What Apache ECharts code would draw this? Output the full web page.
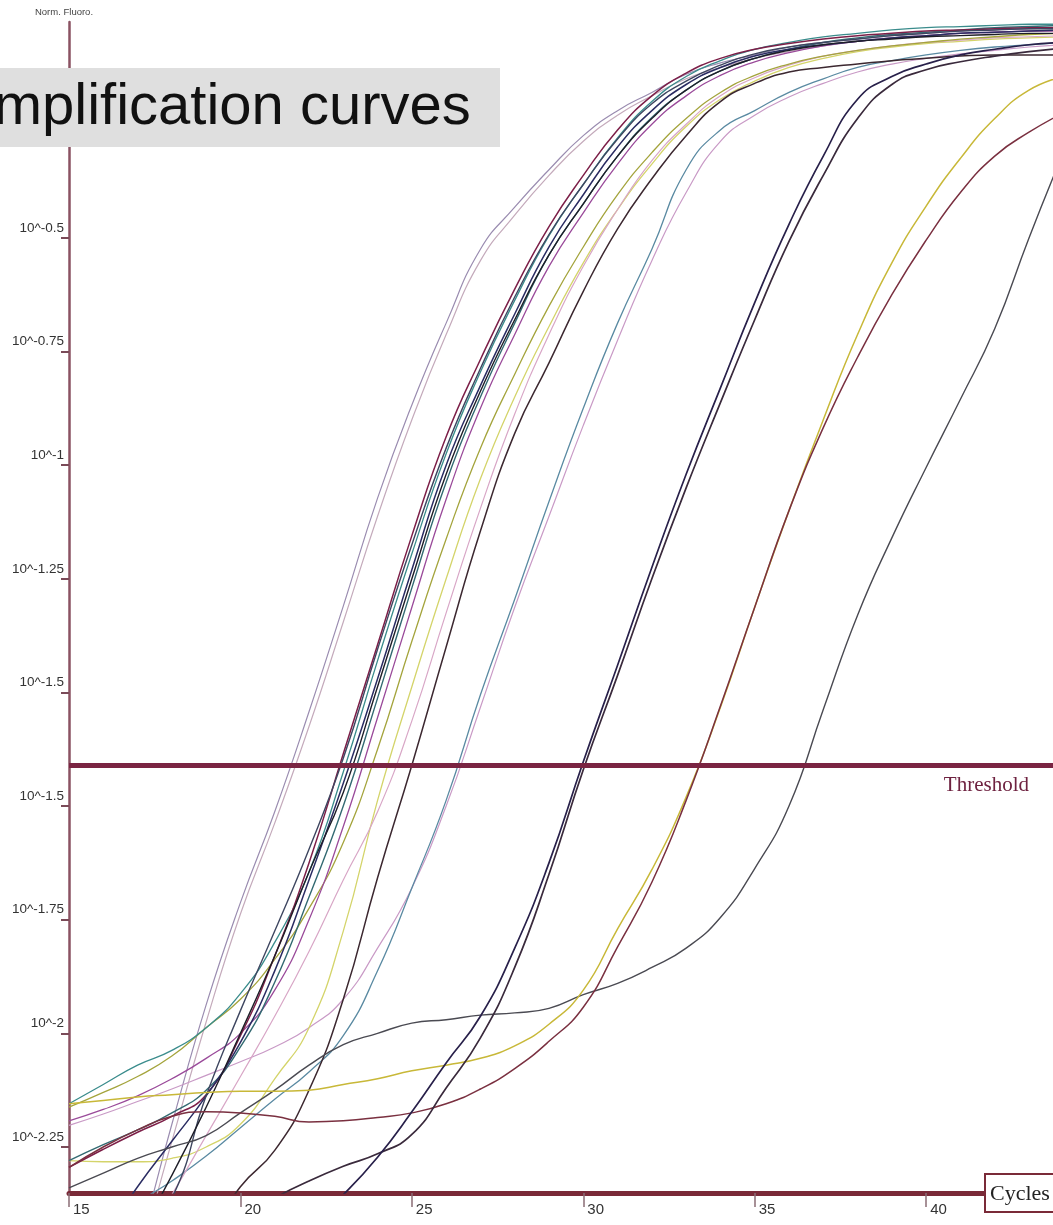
<!DOCTYPE html>
<html><head><meta charset="utf-8">
<script src="https://cdn.jsdelivr.net/npm/echarts@6/dist/echarts.min.js"></script>
<style>html,body{margin:0;padding:0;background:#fff}#c{width:1053px;height:1225px}</style>
</head><body><div id="c"></div>
<script>
// cycles sampled (x axis)
const cycles = [15,16,17,18,19,20,21,22,23,24,25,26,27,28,29,30,31,32,33,34,35,36,37,38,39,40,41,42,43,44];
// x ticks
const xTicks = [15,20,25,30,35,40];
// y ticks (tick index positions) and their printed labels
const yTickValues = [0,1,2,3,4,5,6,7,8];
const yTickLabels = ['10^-2.25','10^-2','10^-1.75','10^-1.5','10^-1.5','10^-1.25','10^-1','10^-0.75','10^-0.5'];
const thresholdValue = 3.36;

// normalised fluorescence per curve (in y tick units), one value per cycle
const L1  = [-2.6,-1.8,-0.9,0.2,1.25,2.15,2.95,3.83,4.76,5.71,6.53,7.25,7.9,8.27,8.6,8.9,9.12,9.28,9.44,9.54,9.61,9.68,9.72,9.75,9.78,9.8,9.82,9.83,9.84,9.85];
const L2  = [-2.6,-1.9,-1.0,0.05,1.1,2.05,2.85,3.7,4.62,5.55,6.4,7.15,7.8,8.2,8.55,8.85,9.08,9.25,9.4,9.5,9.58,9.64,9.69,9.73,9.76,9.78,9.8,9.81,9.82,9.83];
const M1  = [-0.18,-0.02,0.13,0.27,0.46,0.98,1.68,2.5,3.46,4.42,5.38,6.25,6.93,7.55,8.1,8.55,8.95,9.25,9.45,9.58,9.66,9.71,9.75,9.78,9.8,9.82,9.83,9.84,9.85,9.85];
const M2  = [0.38,0.55,0.72,0.85,1.05,1.35,1.8,2.42,3.3,4.28,5.22,6.1,6.82,7.45,8.02,8.47,8.88,9.2,9.42,9.56,9.66,9.72,9.77,9.8,9.83,9.85,9.86,9.87,9.88,9.88];
const M3  = [0.35,0.48,0.62,0.8,1.05,1.3,1.65,2.1,2.68,3.5,4.45,5.35,6.15,6.8,7.4,7.92,8.38,8.75,9.05,9.28,9.43,9.53,9.6,9.65,9.69,9.72,9.75,9.77,9.79,9.8];
const M4  = [-1.3,-0.8,-0.35,0.05,0.45,0.92,1.55,2.35,3.2,4.12,5.08,6.0,6.7,7.33,7.92,8.38,8.8,9.12,9.35,9.5,9.6,9.66,9.7,9.73,9.76,9.78,9.8,9.81,9.82,9.83];
const M5  = [-1.8,-1.3,-0.8,-0.25,0.35,1.0,1.68,2.42,3.12,4.05,5.0,5.92,6.65,7.28,7.85,8.3,8.72,9.05,9.3,9.47,9.58,9.65,9.7,9.73,9.75,9.77,9.78,9.79,9.8,9.8];
const M6  = [-0.12,0.02,0.15,0.3,0.5,0.88,1.45,2.2,3.0,3.95,4.92,5.85,6.6,7.25,7.85,8.3,8.72,9.06,9.3,9.47,9.58,9.66,9.72,9.76,9.79,9.81,9.83,9.85,9.86,9.87];
const M7  = [0.23,0.33,0.45,0.6,0.78,1.0,1.38,2.0,2.82,3.78,4.75,5.7,6.5,7.15,7.75,8.22,8.65,9.0,9.25,9.43,9.55,9.63,9.69,9.73,9.76,9.78,9.8,9.81,9.82,9.82];
const M8  = [-1.5,-1.2,-0.8,-0.45,0.45,1.2,1.9,2.62,3.42,4.38,5.3,6.15,6.85,7.48,8.03,8.47,8.87,9.18,9.38,9.52,9.62,9.68,9.72,9.75,9.78,9.8,9.82,9.83,9.84,9.84];
const Y24 = [-0.12,-0.13,-0.13,-0.1,0.0,0.2,0.6,1.05,1.9,3.05,4.05,5.0,5.88,6.6,7.22,7.78,8.25,8.65,8.98,9.22,9.38,9.5,9.58,9.64,9.68,9.71,9.73,9.75,9.76,9.77];
const P24 = [-1.6,-1.3,-0.9,-0.42,0.1,0.62,1.15,1.72,2.35,2.95,3.75,4.7,5.62,6.45,7.15,7.75,8.25,8.68,9.0,9.25,9.41,9.52,9.6,9.65,9.69,9.72,9.74,9.76,9.77,9.78];
const B1  = [-2.5,-2.0,-1.5,-1.1,-0.8,-0.35,-0.03,0.5,1.3,2.37,3.36,4.4,5.42,6.28,6.9,7.53,8.08,8.52,8.9,9.2,9.36,9.46,9.5,9.53,9.56,9.58,9.6,9.61,9.61,9.61];
const T26 = [-1.1,-0.8,-0.5,-0.3,-0.08,0.17,0.42,0.66,0.98,1.55,2.28,3.05,3.98,4.82,5.68,6.5,7.25,7.9,8.6,8.95,9.12,9.28,9.4,9.5,9.56,9.61,9.65,9.68,9.7,9.72];
const P26 = [0.19,0.29,0.40,0.51,0.63,0.75,0.88,1.05,1.3,1.75,2.28,3.0,3.87,4.75,5.55,6.35,7.1,7.8,8.4,8.85,9.08,9.24,9.36,9.46,9.53,9.58,9.62,9.65,9.68,9.7];
const D1  = [-2.5,-2.2,-1.9,-1.6,-1.35,-1.1,-0.9,-0.7,-0.42,-0.09,0.31,0.74,1.15,1.75,2.5,3.39,4.24,5.1,5.92,6.68,7.43,8.12,8.72,9.22,9.42,9.53,9.61,9.66,9.7,9.72];
const D2  = [-2.0,-1.7,-1.4,-1.1,-0.85,-0.65,-0.45,-0.3,-0.17,-0.06,0.11,0.52,0.96,1.58,2.4,3.32,4.15,5.0,5.8,6.55,7.28,7.97,8.55,9.05,9.35,9.48,9.55,9.6,9.64,9.67];
const Y33 = [0.38,0.41,0.44,0.46,0.48,0.49,0.49,0.5,0.55,0.6,0.67,0.72,0.78,0.89,1.08,1.38,1.92,2.44,3.08,3.87,4.75,5.6,6.4,7.15,7.78,8.28,8.7,9.05,9.3,9.42];
const Br33= [-0.18,0.0,0.15,0.27,0.31,0.3,0.27,0.22,0.23,0.26,0.3,0.38,0.51,0.69,0.93,1.23,1.76,2.33,3.05,3.88,4.75,5.6,6.33,6.95,7.5,7.98,8.4,8.72,8.93,9.1];
const G36 = [-0.36,-0.23,-0.1,0.0,0.1,0.3,0.5,0.72,0.9,1.0,1.09,1.12,1.16,1.18,1.22,1.34,1.44,1.58,1.75,2.02,2.45,3.0,3.85,4.68,5.36,5.98,6.58,7.2,8.0,8.75];

const curves = [
  ['L1', L1, '#9a8cb0', 1.2], ['L2', L2, '#c4aabb', 1.2],
  ['P26', P26, '#c99ac6', 1.2], ['T26', T26, '#5a8aa2', 1.3],
  ['Y24', Y24, '#d4d46a', 1.3], ['P24', P24, '#d8a6c6', 1.2],
  ['M3', M3, '#a4a43c', 1.3], ['M2', M2, '#3a8c8c', 1.3],
  ['M7', M7, '#9a4a9a', 1.3], ['M6', M6, '#336a72', 1.4],
  ['M1', M1, '#7c1f48', 1.5], ['M4', M4, '#2a2c62', 1.5],
  ['M8', M8, '#3e4660', 1.4], ['M5', M5, '#1e1e28', 1.4],
  ['B1', B1, '#3c2830', 1.5], ['G36', G36, '#4a4a52', 1.4],
  ['Y33', Y33, '#c8b838', 1.5], ['Br33', Br33, '#7a3040', 1.5],
  ['D2', D2, '#3a2a3c', 1.7], ['D1', D1, '#28204a', 1.7]
];

const series = curves.map(([name, vals, color, w]) => ({
  name, type: 'line', data: cycles.map((c, i) => [c, vals[i]]),
  showSymbol: false, symbol: 'none', smooth: 0.5,
  lineStyle: { color, width: w }, itemStyle: { color },
  emphasis: { disabled: true }, silent: true, clip: true, z: 2
}));

series.push({
  name: 'Threshold', type: 'line', data: [], z: 5, silent: true,
  markLine: {
    silent: true, symbol: ['none', 'none'], animation: false,
    lineStyle: { color: '#7a2442', width: 5, type: 'solid' },
    label: { show: true, position: 'insideEndBottom', formatter: 'Threshold',
      fontFamily: '"Liberation Serif", "DejaVu Serif", serif', fontSize: 21,
      color: '#6e2240', distance: 10, padding: [0, 14, 0, 0] },
    data: [{ yAxis: thresholdValue }]
  }
});

const labelFont = '"Liberation Sans", Arial, sans-serif';

const chart = echarts.init(document.getElementById('c'), null, { renderer: 'canvas' });
chart.setOption({
  animation: false,
  backgroundColor: '#ffffff',
  grid: { left: 69, right: 0, top: 22, bottom: 32, containLabel: false },
  xAxis: {
    type: 'value', min: 15, max: 43.7,
    axisLine: { show: true, onZero: false, lineStyle: { color: '#7a2a38', width: 5 } },
    axisTick: { show: true, length: 14, customValues: xTicks, lineStyle: { color: '#8a6e76', width: 1.5 } },
    axisLabel: { show: true, customValues: xTicks, align: 'left', padding: [0, 0, 0, 4], margin: 9,
      fontFamily: labelFont, fontSize: 15, color: '#333' },
    splitLine: { show: false }
  },
  yAxis: {
    type: 'value', min: -0.405, max: 9.9,
    name: 'Norm. Fluoro.', nameLocation: 'end', nameGap: 5,
    nameTextStyle: { fontFamily: labelFont, fontSize: 9.5, color: '#444', align: 'center', padding: [0, 10, 0, 0] },
    axisLine: { show: true, onZero: false, lineStyle: { color: '#8a5262', width: 2.5 } },
    axisTick: { show: true, length: 8, customValues: yTickValues, lineStyle: { color: '#7a4a58', width: 2 } },
    axisLabel: { show: true, customValues: yTickValues, margin: 5, verticalAlign: 'bottom', padding: [0, 0, 3, 0],
      fontFamily: labelFont, fontSize: 13.5, color: '#333',
      formatter: v => yTickLabels[Math.round(v)] },
    splitLine: { show: false }
  },
  graphic: [
    { type: 'rect', z: 100, shape: { x: 0, y: 68, width: 500, height: 79 }, style: { fill: '#dfdfdf' } },
    { type: 'text', z: 101, x: -45, y: 108, style: { text: 'Amplification curves', fill: '#111',
      font: '58px "Liberation Sans", Arial, sans-serif', verticalAlign: 'middle', align: 'left' } },
    { type: 'rect', z: 100, shape: { x: 985, y: 1174, width: 80, height: 38 }, style: { fill: '#fff', stroke: '#7a2a38', lineWidth: 2 } },
    { type: 'text', z: 101, x: 990, y: 1194, style: { text: 'Cycles', fill: '#222',
      font: '22px "Liberation Serif", "DejaVu Serif", serif', verticalAlign: 'middle', align: 'left' } }
  ],
  series
});
</script></body></html>
